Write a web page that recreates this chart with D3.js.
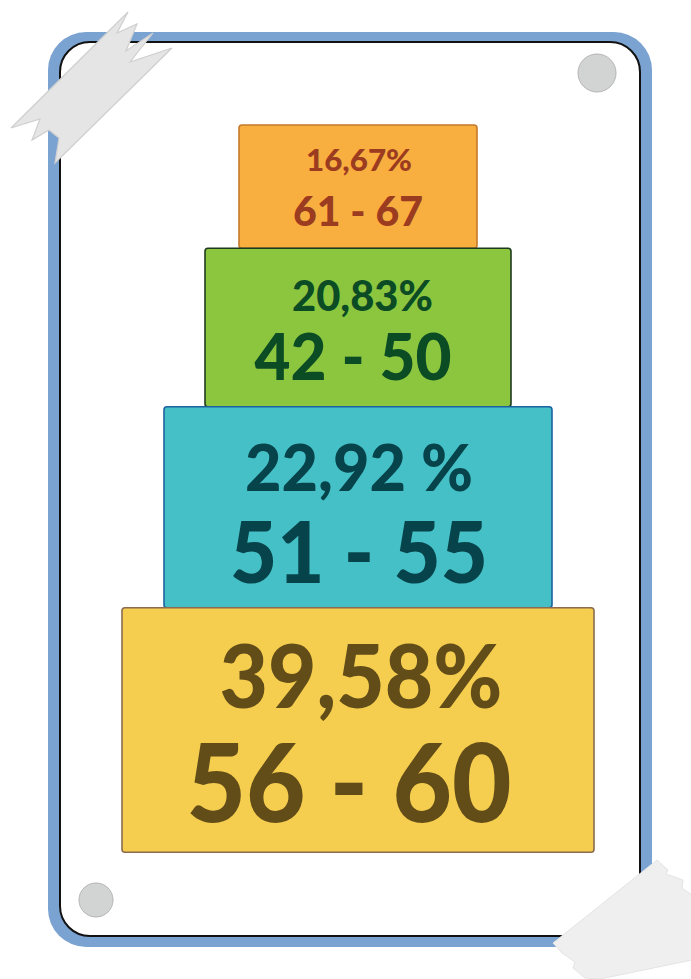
<!DOCTYPE html>
<html>
<head>
<meta charset="utf-8">
<script src="https://cdn.jsdelivr.net/npm/d3@7"></script>
<style>
  html, body { margin: 0; padding: 0; background: #fff; }
  svg { display: block; }
</style>
</head>
<body>
<div id="chart"></div>
<script>
// data, top tier first
let ranges = ["61 - 67", "42 - 50", "51 - 55", "56 - 60"];
let pctLabels = ["16,67%", "20,83%", "22,92 %", "39,58%"];
let tiers = [0, 1, 2, 3];

// colours per tier
let fills = ["#f9ae40", "#8cc63f", "#45c0c7", "#f5cd4f"];
let strokes = ["#c47a2c", "#1f3b1f", "#1c62a0", "#8c6b4e"];
let inks = ["#9b3b1f", "#0b4c25", "#06434a", "#624d18"];

// label layout (font size, target width, baseline from box top, x shift)
let pctSize = [31, 42, 64, 88], pctWidth = [106, 141, 228, 283],
    pctBase = [46, 63, 84, 100], pctDx = [1, 4.5, 1, 3];
let rngSize = [41, 65, 85, 109], rngWidth = [130, 197, 258, 325],
    rngBase = [101, 132, 176, 214], rngDx = [0, -5, 1, -9];

let width = 691, height = 979;
let svg = d3.select("#chart")
  .append("svg")
    .attr("width", width)
    .attr("height", height);

// the card
svg.append("rect")
  .attr("x", 48).attr("y", 32)
  .attr("width", 604).attr("height", 915)
  .attr("rx", 38).attr("ry", 38)
  .attr("fill", "#7ba3d2");
svg.append("rect")
  .attr("x", 60).attr("y", 42)
  .attr("width", 580).attr("height", 894)
  .attr("rx", 30).attr("ry", 30)
  .attr("fill", "#fff")
  .attr("stroke", "#111")
  .attr("stroke-width", 2);

// pins
svg.selectAll(".pin")
  .data([[597, 73, 19], [96, 900, 17]])
  .enter().append("circle")
    .attr("class", "pin")
    .attr("cx", d => d[0]).attr("cy", d => d[1]).attr("r", d => d[2])
    .attr("fill", "#d2d3d3")
    .attr("stroke", "#b5b5b5")
    .attr("stroke-width", 1);

// box sizes: every tier is the same shape, only scaled
let boxW = d3.scaleLinear().domain(tiers).range([238, 306, 388, 472]);
let aspect = 0.518;
let cx = 358, top0 = 125;

let boxes = tiers.map(i => ({
  i: i,
  w: boxW(i),
  h: boxW(i) * aspect
}));
let y = top0;
boxes.forEach(b => { b.y = y; y += b.h; });

let g = svg.selectAll(".tier")
  .data(boxes)
  .enter().append("g")
    .attr("class", "tier");

g.append("rect")
  .attr("x", d => cx - d.w / 2)
  .attr("y", d => d.y)
  .attr("width", d => d.w)
  .attr("height", d => d.h)
  .attr("rx", 3).attr("ry", 3)
  .attr("fill", d => fills[d.i])
  .attr("stroke", d => strokes[d.i])
  .attr("stroke-width", 1.6);

g.append("text")
  .attr("x", d => cx + pctDx[d.i])
  .attr("y", d => d.y + pctBase[d.i])
  .attr("text-anchor", "middle")
  .attr("font-family", "Lato, 'Open Sans', sans-serif")
  .attr("font-weight", 900)
  .attr("font-size", d => pctSize[d.i])
  .attr("textLength", d => pctWidth[d.i])
  .attr("lengthAdjust", "spacingAndGlyphs")
  .attr("fill", d => inks[d.i])
  .text(d => pctLabels[d.i]);

g.append("text")
  .attr("x", d => cx + rngDx[d.i])
  .attr("y", d => d.y + rngBase[d.i])
  .attr("text-anchor", "middle")
  .attr("font-family", "Lato, 'Open Sans', sans-serif")
  .attr("font-weight", 900)
  .attr("font-size", d => rngSize[d.i])
  .attr("textLength", d => rngWidth[d.i])
  .attr("lengthAdjust", "spacingAndGlyphs")
  .attr("fill", d => inks[d.i])
  .text(d => ranges[d.i]);

// tape strips
let line = d3.line();
svg.append("path")
  .attr("d", line([[11,128],[128,12],[117,33],[137,24],[126,51],[153,33],[130,62],[172,48],
                   [55,163],[59,138],[49,130],[32,140],[40,119]]) + "Z")
  .attr("fill", "#e5e5e5")
  .attr("stroke", "#cfcfcf")
  .attr("stroke-width", 1.2);
svg.append("path")
  .attr("d", line([[553,943],[657,860],[668,870],[666,874],[683,880],[682,888],[692,895],
                   [692,960],[600,979],[585,978],[573,968],[575,962],[562,953]]) + "Z")
  .attr("fill", "#efefef")
  .attr("stroke", "#e4e4e4")
  .attr("stroke-width", 1);
</script>
</body>
</html>
